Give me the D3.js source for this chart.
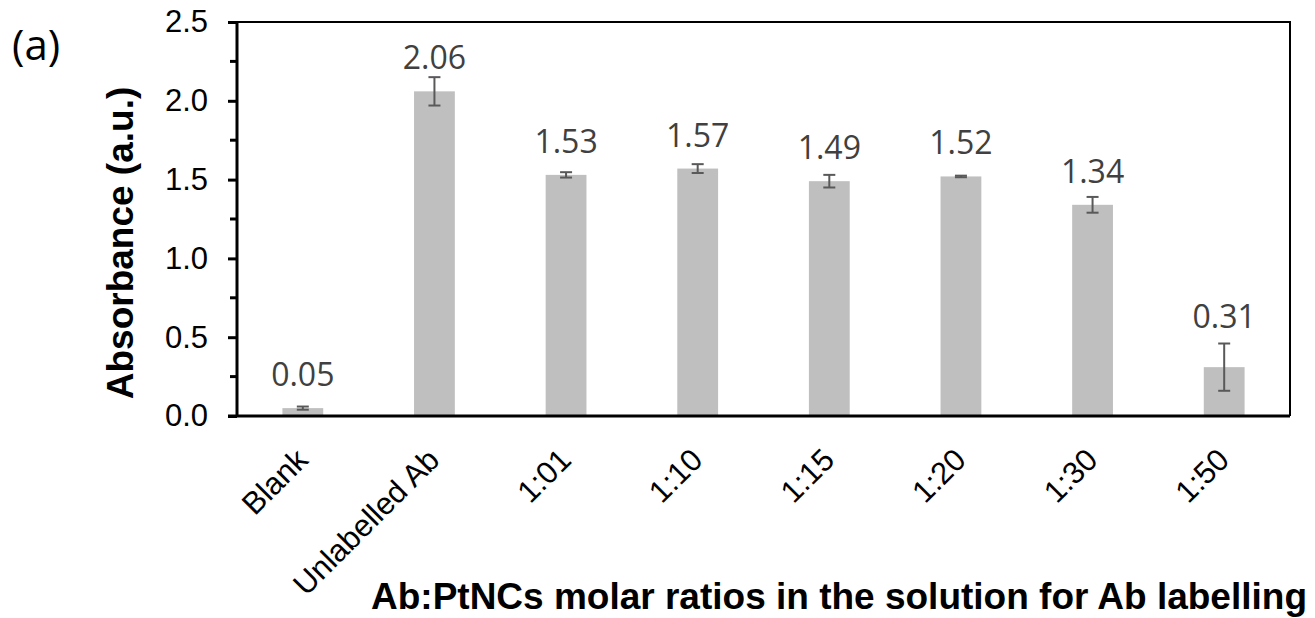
<!DOCTYPE html>
<html>
<head>
<meta charset="utf-8">
<script src="https://cdn.jsdelivr.net/npm/d3@7"></script>
<style>
  html, body { margin: 0; padding: 0; background: #fff; }
  svg { display: block; }
</style>
</head>
<body>
<svg id="chart" width="1315" height="618"></svg>
<script>
// Absorbance by Ab:PtNCs molar ratio
const categories = ["Blank", "Unlabelled Ab", "1:01", "1:10", "1:15", "1:20", "1:30", "1:50"];
const absorbance = [0.05, 2.06, 1.53, 1.57, 1.49, 1.52, 1.34, 0.31];
const errors = [0.01, 0.09, 0.017, 0.028, 0.04, 0.005, 0.05, 0.15];
const yTicks = [0, 0.5, 1.0, 1.5, 2.0, 2.5];
const yMinorTicks = [0.25, 0.75, 1.25, 1.75, 2.25];

const svg = d3.select("#chart");
const plot = { left: 237, right: 1290, top: 22, bottom: 416 };

const x = d3.scaleBand()
  .domain(categories)
  .range([plot.left, plot.right])
  .paddingInner(0.69)
  .paddingOuter(0.345);

const y = d3.scaleLinear()
  .domain([0, 2.5])
  .range([plot.bottom, plot.top]);

// frame (top and right)
svg.append("path")
  .attr("d", `M${plot.left},${plot.top}H${plot.right}V${plot.bottom}`)
  .attr("fill", "none")
  .attr("stroke", "#000")
  .attr("stroke-width", 2);

// bars
svg.append("g").selectAll("rect")
  .data(absorbance)
  .join("rect")
  .attr("x", (d, i) => x(categories[i]))
  .attr("width", x.bandwidth())
  .attr("y", d => y(d))
  .attr("height", d => y(0) - y(d))
  .attr("fill", "#bfbfbf");

// error bars
const eb = svg.append("g").attr("stroke", "#595959").attr("stroke-width", 2);
absorbance.forEach((v, i) => {
  const cx = x(categories[i]) + x.bandwidth() / 2;
  const lo = y(v - errors[i]), hi = y(v + errors[i]);
  eb.append("line").attr("x1", cx).attr("x2", cx).attr("y1", lo).attr("y2", hi);
  eb.append("line").attr("x1", cx - 6).attr("x2", cx + 6).attr("y1", lo).attr("y2", lo);
  eb.append("line").attr("x1", cx - 6).attr("x2", cx + 6).attr("y1", hi).attr("y2", hi);
});

// value labels above each bar (lifted clear of a tall error bar)
svg.append("g").selectAll("text")
  .data(absorbance)
  .join("text")
  .attr("x", (d, i) => x(categories[i]) + x.bandwidth() / 2)
  .attr("y", (d, i) => {
    const top = y(d) - 22;
    const errTop = y(d + errors[i]);
    return errTop < top + 2 ? errTop - 16 : top;
  })
  .attr("text-anchor", "middle")
  .attr("font-family", "'Open Sans', sans-serif")
  .attr("font-size", 32)
  .attr("fill", "#404040")
  .text(d => d.toFixed(2));

// y axis
const yAxis = svg.append("g")
  .attr("transform", `translate(${plot.left},0)`)
  .call(d3.axisLeft(y).tickValues(yTicks).tickFormat(d3.format(".1f")).tickSize(9).tickPadding(20));
yAxis.select(".domain").attr("stroke-width", 3).attr("d", `M0,${plot.top}V${plot.bottom}`);
yAxis.selectAll(".tick line").attr("stroke-width", 3);
yAxis.selectAll(".tick text")
  .attr("font-family", "Arial, 'Liberation Sans', sans-serif")
  .attr("font-size", 31)
  .attr("fill", "#000");
svg.append("g")
  .attr("transform", `translate(${plot.left},0)`)
  .selectAll("line")
  .data(yMinorTicks)
  .join("line")
  .attr("x1", -7).attr("x2", 0)
  .attr("y1", d => y(d)).attr("y2", d => y(d))
  .attr("stroke", "#000").attr("stroke-width", 3);

// x axis
const xAxis = svg.append("g")
  .attr("transform", `translate(0,${plot.bottom})`)
  .call(d3.axisBottom(x).tickSize(0).tickFormat(""));
xAxis.select(".domain").attr("stroke-width", 3).attr("d", `M${plot.left - 9},0H${plot.right}`);

svg.append("g").selectAll("text")
  .data(categories)
  .join("text")
  .attr("transform", d => `translate(${x(d) + x.bandwidth() / 2 - 9},${plot.bottom + 30}) rotate(-45)`)
  .attr("dy", "0.72em")
  .attr("text-anchor", "end")
  .attr("font-family", "Arial, 'Liberation Sans', sans-serif")
  .attr("font-size", 31)
  .attr("fill", "#000")
  .text(d => d);

// axis titles
svg.append("text")
  .attr("transform", "translate(133,243) rotate(-90)")
  .attr("text-anchor", "middle")
  .attr("font-family", "Arial, 'Liberation Sans', sans-serif")
  .attr("font-weight", "bold")
  .attr("font-size", 37)
  .attr("fill", "#000")
  .text("Absorbance (a.u.)");

svg.append("text")
  .attr("x", 1307)
  .attr("y", 609)
  .attr("text-anchor", "end")
  .attr("font-family", "Arial, 'Liberation Sans', sans-serif")
  .attr("font-weight", "bold")
  .attr("font-size", 37)
  .attr("fill", "#000")
  .text("Ab:PtNCs molar ratios in the solution for Ab labelling");

// panel label
svg.append("text")
  .attr("x", 12)
  .attr("y", 60)
  .attr("font-family", "'Open Sans', sans-serif")
  .attr("font-size", 42)
  .attr("fill", "#000")
  .text("(a)");
</script>
</body>
</html>
